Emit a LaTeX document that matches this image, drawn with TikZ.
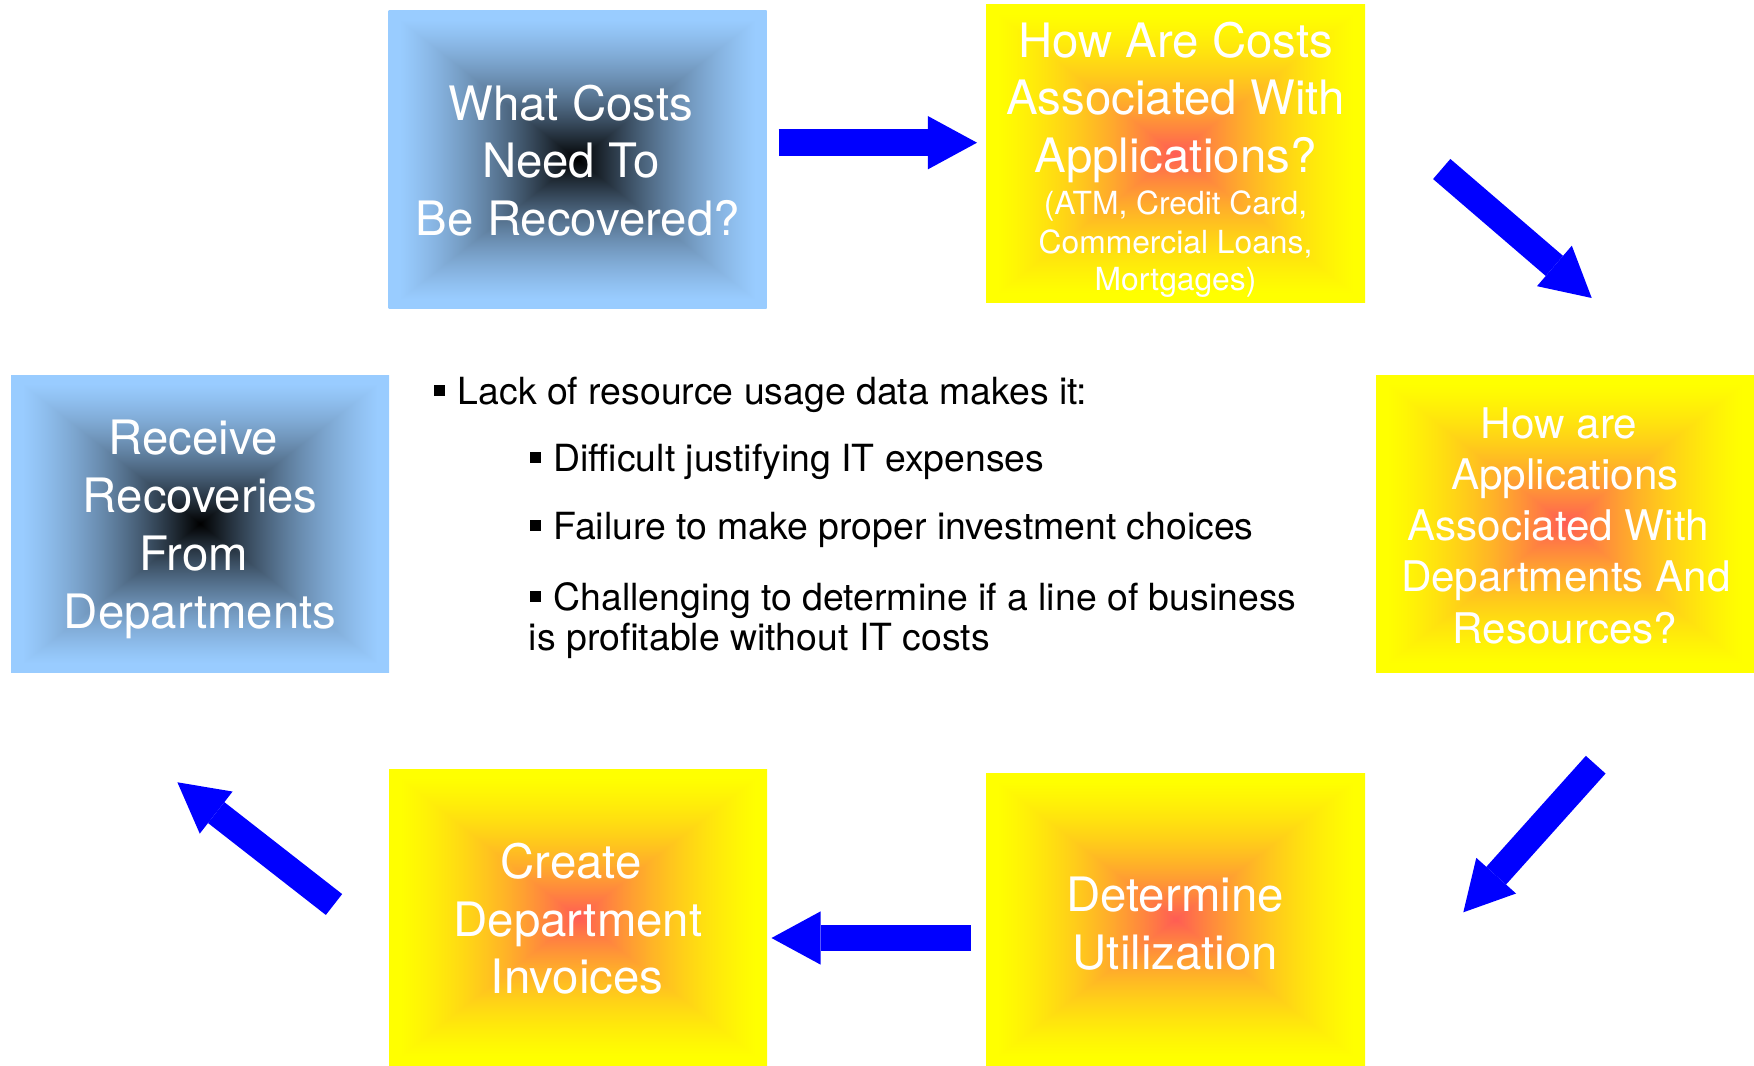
\documentclass[tikz,border=0pt]{standalone}
\usepackage{fontspec}
\setmainfont{TeX Gyre Heros}
\usetikzlibrary{arrows.meta}
\definecolor{arrowblue}{RGB}{0,0,255}
\pgfdeclarefunctionalshading{bluecenter}{\pgfpoint{0bp}{0bp}}{\pgfpoint{100bp}{100bp}}{}{50 sub exch 50 sub abs exch abs 2 copy lt {exch} if pop 23.5 div dup 1 gt {pop 1} if dup 0.5 mul 1.5 exch sub mul dup 0.6 mul exch dup 0.8 mul exch}
\pgfdeclarefunctionalshading{yellowcenter}{\pgfpoint{0bp}{0bp}}{\pgfpoint{100bp}{100bp}}{}{50 sub exch 50 sub abs exch abs 2 copy lt {exch} if pop 23.5 div dup 1 gt {pop 1} if dup 0.5 mul 1.5 exch sub mul 1 exch dup 0.64 mul 0.36 add exch 0.33 mul 0.33 exch sub}
\newcommand{\sqbullet}{\rule[0.225em]{0.29em}{0.29em}\hspace{0.33em}}
\tikzset{
  bluebox/.style={shade, shading=bluecenter, inner sep=0pt, minimum width=189pt, minimum height=148.5pt},
  yellowbox/.style={shade, shading=yellowcenter, inner sep=0pt, minimum width=189pt, minimum height=148.5pt},
  bigtext/.style={text=white, anchor=base, inner sep=0pt, font=\fontsize{23.7}{28}\selectfont},
  midtext/.style={text=white, anchor=base, inner sep=0pt, font=\fontsize{21.1}{25}\selectfont},
  smalltext/.style={text=white, anchor=base, inner sep=0pt, font=\fontsize{15.9}{19}\selectfont},
  bodytext/.style={text=black, anchor=base west, inner sep=0pt, font=\fontsize{18.7}{20}\selectfont},
  bluearrow/.style={draw=arrowblue, line width=13.25pt,
    -{Triangle[length=24.6pt,width=26.7pt,line width=0pt]}}
}
\begin{document}
\begin{tikzpicture}[x=0.5pt,y=-0.5pt]
\useasboundingbox (0,0) rectangle (1754,1065);
% boxes
\node[bluebox] (b1) at (577.5,159.5) {};
\node[yellowbox, minimum width=189.5pt] (b2) at (1175.5,153.5) {};
\node[yellowbox] (b3) at (1565,523.5) {};
\node[yellowbox, minimum width=189.5pt, minimum height=146pt] (b4) at (1175.5,919) {};
\node[yellowbox, minimum height=148pt] (b5) at (578,917) {};
\node[bluebox] (b6) at (200,523.5) {};
% box 1 text
\node[bigtext] (t1a) at (570.8,120) {What Costs};
\node[bigtext] (t1b) at (570.8,177.5) {Need To};
\node[bigtext] (t1c) at (577.9,235) {Be Recovered?};
% box 2 text
\node[bigtext] (t2a) at (1175.5,58) {How Are Costs};
\node[bigtext] (t2b) at (1175.5,114.5) {Associated With};
\node[bigtext] (t2c) at (1175.5,172) {Applications?};
\node[smalltext] (t2d) at (1175.5,214) {(ATM, Credit Card,};
\node[smalltext] (t2e) at (1175.5,253) {Commercial Loans,};
\node[smalltext] (t2f) at (1175.5,290) {Mortgages)};
% box 3 text
\node[midtext] (t3a) at (1559,438) {How are};
\node[midtext] (t3b) at (1565,489.3) {Applications};
\node[midtext] (t3c) at (1558.3,540.6) {Associated With};
\node[midtext] (t3d) at (1565.8,591.9) {Departments And};
\node[midtext] (t3e) at (1565,643.2) {Resources?};
% box 4 text
\node[bigtext] (t4a) at (1175,911.8) {Determine};
\node[bigtext] (t4b) at (1175.4,969.3) {Utilization};
% box 5 text
\node[bigtext] (t5a) at (571.2,878.5) {Create};
\node[bigtext] (t5b) at (578,936) {Department};
\node[bigtext] (t5c) at (577.2,993.5) {Invoices};
% box 6 text
\node[bigtext] (t6a) at (193.3,454.3) {Receive};
\node[bigtext] (t6b) at (200.2,512.4) {Recoveries};
\node[bigtext] (t6c) at (193.5,570.5) {From};
\node[bigtext] (t6d) at (200.2,628.5) {Departments};
% middle text
\node[bodytext] (m1) at (434,404.5) {\sqbullet Lack of resource usage data makes it:};
\node[bodytext] (m2) at (530,471) {\sqbullet Difficult justifying IT expenses};
\node[bodytext] (m3) at (530,539) {\sqbullet Failure to make proper investment choices};
\node[bodytext] (m4) at (530,610) {\sqbullet Challenging to determine if a line of business};
\node[bodytext] (m5) at (528.5,650) {is profitable without IT costs};
% arrows
\coordinate (a1s) at (778.6,142.7);
\coordinate (a1e) at (977,142.7);
\coordinate (a2s) at (1441.7,169);
\coordinate (a2e) at (1591.7,298);
\coordinate (a3s) at (1595.7,764.7);
\coordinate (a3e) at (1463.3,912.3);
\coordinate (a4s) at (970.5,938);
\coordinate (a4e) at (771.5,938);
\coordinate (a5s) at (334,904.5);
\coordinate (a5e) at (177.4,782.3);
\draw[bluearrow] (a1s) -- (a1e);
\draw[bluearrow] (a2s) -- (a2e);
\draw[bluearrow] (a3s) -- (a3e);
\draw[bluearrow] (a4s) -- (a4e);
\draw[bluearrow] (a5s) -- (a5e);
\end{tikzpicture}
\end{document}
